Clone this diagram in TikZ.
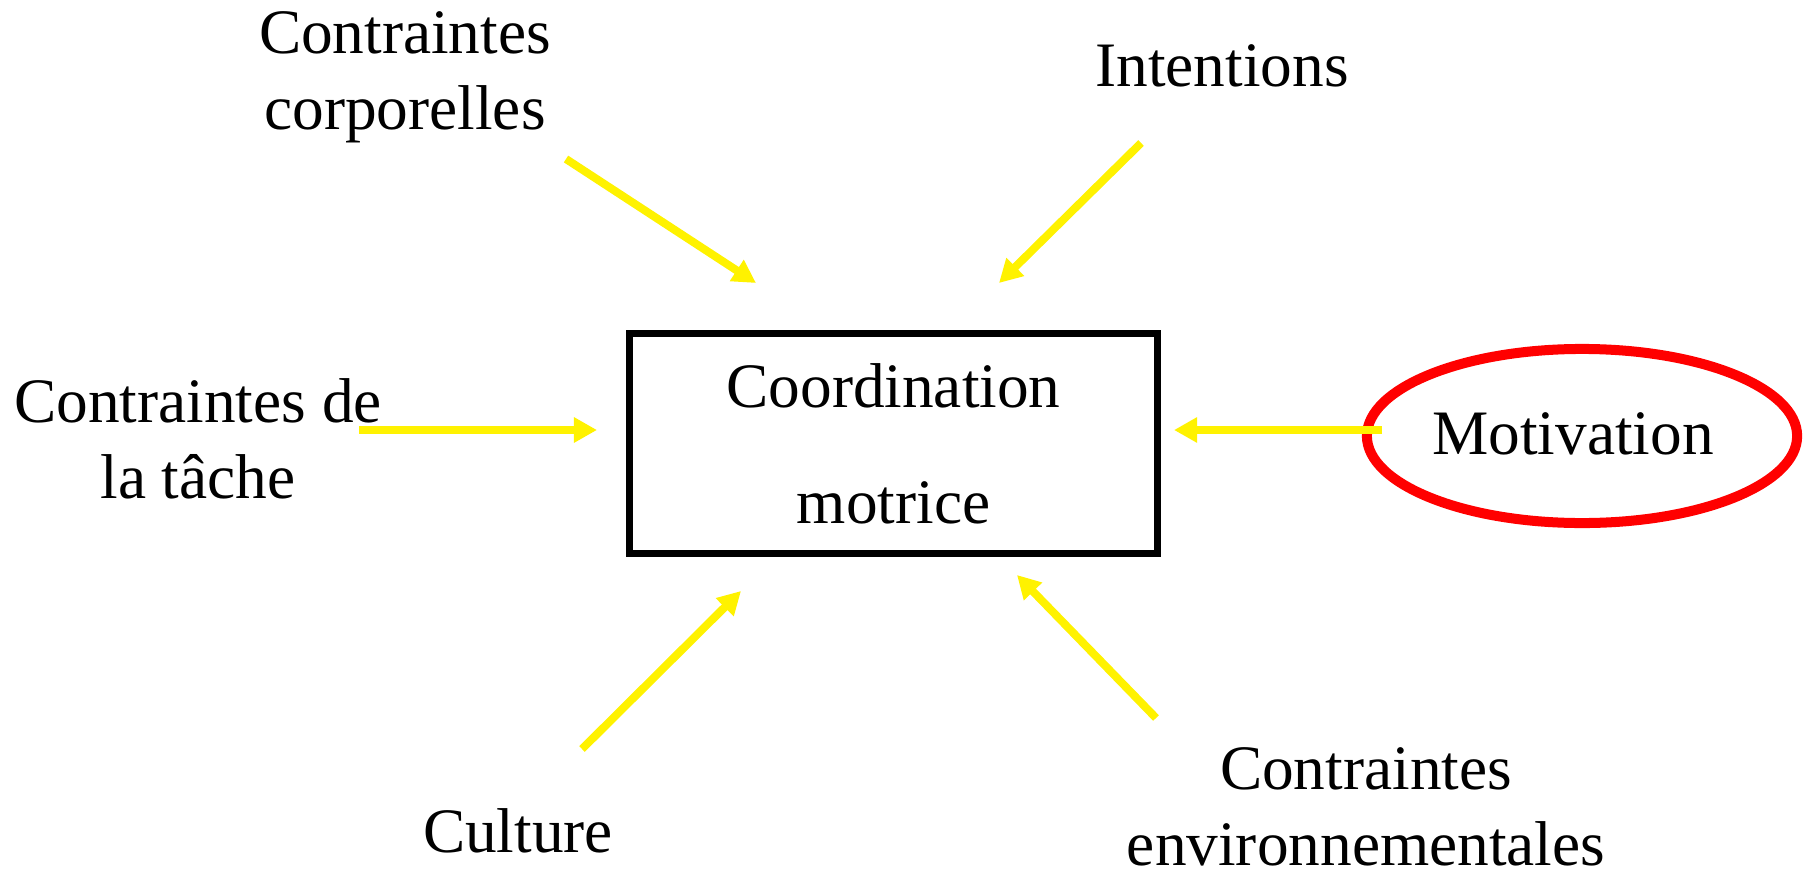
\documentclass[tikz,border=0pt]{standalone}
\usepackage{fontspec}
\setmainfont{Liberation Serif}
\usetikzlibrary{arrows.meta,shapes.geometric}

\begin{document}
\begin{tikzpicture}[x=0.01cm,y=-0.01cm,
    factor/.style={align=center,inner sep=0pt,font=\fontsize{18}{21.5}\selectfont},
    push/.style={draw=yellow,line width=0.08cm,-{Triangle[length=0.23cm,width=0.24cm]}}]
  \useasboundingbox (0,0) rectangle (1804,870);

  % Central box
  \node [draw,line width=0.07cm,minimum width=5.27cm,minimum height=2.19cm,
         align=center,inner sep=0pt,font=\fontsize{18}{33}\selectfont]
        (coord) at (893.5,443.5) {Coordination\\motrice};

  % Motivation, circled in red
  \node [ellipse,draw=red,line width=0.10cm,minimum width=4.30cm,minimum height=1.74cm]
        (motiv) at (1582,436) {};
  \node [factor] (motivtxt) at (1573,434) {Motivation};

  % Factors around the box
  \node [factor] (corp)   at (405,77)   {Contraintes\\corporelles};
  \node [factor] (intent) at (1222,66)  {Intentions};
  \node [factor] (tache)  at (198,439)  {Contraintes de\\la tâche};
  \node [factor] (cult)   at (518,831)  {Culture};
  \node [factor] (env)    at (1366,807) {Contraintes\\environnementales};

  % Arrow ends
  \coordinate (corpA)   at (566,159);  \coordinate (corpB)   at (756,283);
  \coordinate (intentA) at (1141,143); \coordinate (intentB) at (999,283);
  \coordinate (tacheA)  at (359,430);  \coordinate (tacheB)  at (597,430);
  \coordinate (motivA)  at (1382,430); \coordinate (motivB)  at (1174,430);
  \coordinate (cultA)   at (582,749);  \coordinate (cultB)   at (741,591);
  \coordinate (envA)    at (1156,718); \coordinate (envB)    at (1017,575);

  % Yellow arrows toward the box
  \draw [push] (corpA) -- (corpB);
  \draw [push] (intentA) -- (intentB);
  \draw [push] (tacheA) -- (tacheB);
  \draw [push] (motivA) -- (motivB);
  \draw [push] (cultA) -- (cultB);
  \draw [push] (envA) -- (envB);
\end{tikzpicture}
\end{document}
